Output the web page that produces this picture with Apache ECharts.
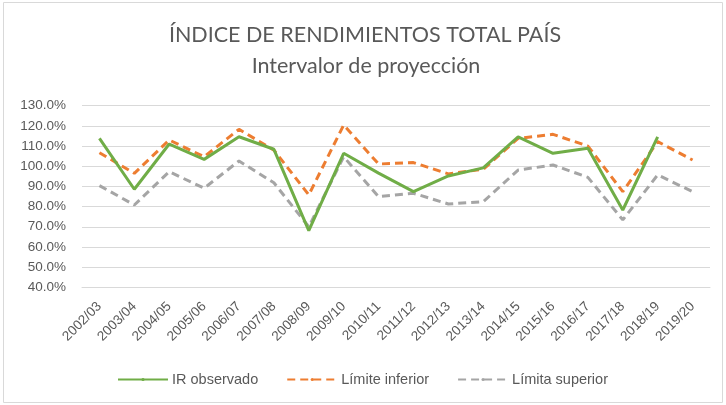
<!DOCTYPE html>
<html><head><meta charset="utf-8">
<script src="https://cdn.jsdelivr.net/npm/echarts@6/dist/echarts.min.js"></script>
<style>html,body{margin:0;padding:0;background:#fff}#c{width:726px;height:405px}</style>
</head><body><div id="c"></div>
<script>
const categories = ['2002/03','2003/04','2004/05','2005/06','2006/07','2007/08','2008/09','2009/10','2010/11','2011/12','2012/13','2013/14','2014/15','2015/16','2016/17','2017/18','2018/19','2019/20'];
const irObservado = [113.8,88.6,111.0,103.4,114.6,108.4,68.1,106.4,96.6,87.4,95.2,99.2,114.6,106.4,108.9,78.3,114.6,null];
const limiteInferior = [106.7,96.5,113.0,104.7,118.3,108.0,85.8,120.4,101.1,101.8,96.2,98.5,113.8,115.8,110.0,87.4,112.2,103.1];
const limitaSuperior = [90.4,80.8,97.3,89.1,102.6,91.8,70.0,104.7,84.9,86.6,81.3,82.4,98.1,100.6,94.5,73.4,95.7,87.4];
const yTicks = {min:40, max:130, interval:10};
const titleLines = ['ÍNDICE DE RENDIMIENTOS TOTAL PAÍS','Intervalor de proyección'];

const chart = echarts.init(document.getElementById('c'));
const txt = '#595959';
const font = 'Liberation Sans';
chart.setOption({
  animation:false,
  graphic:[
    {type:'rect',shape:{x:3.5,y:2.5,width:719,height:400},style:{fill:'none',stroke:'#D9D9D9',lineWidth:1}},
    {type:'text',x:365,y:35,style:{text:titleLines[0],fill:txt,font:'21.5px Lato',textAlign:'center',textVerticalAlign:'middle'}},
    {type:'text',x:366,y:66,style:{text:titleLines[1],fill:txt,font:'21.5px Lato',textAlign:'center',textVerticalAlign:'middle'}}
  ],
  grid:{left:82,right:16,top:105.7,bottom:117.7,containLabel:false},
  xAxis:{type:'category',data:categories,boundaryGap:true,
    axisLine:{show:true,lineStyle:{color:'#D9D9D9'}},axisTick:{show:false},
    axisLabel:{interval:0,rotate:45,color:txt,fontFamily:font,fontSize:13.5,margin:17}},
  yAxis:{type:'value',min:yTicks.min,max:yTicks.max,interval:yTicks.interval,
    axisLine:{show:false},axisTick:{show:false},
    splitLine:{lineStyle:{color:'#D9D9D9',width:1}},
    axisLabel:{color:txt,fontFamily:font,fontSize:13.5,margin:16,formatter:v=>v.toFixed(1)+'%'}},
  legend:{top:372,left:117,padding:0,itemWidth:50,itemHeight:4,itemGap:28,
    textStyle:{color:txt,fontFamily:font,fontSize:14.5,padding:[0,0,0,-1]},
    data:['IR observado','Límite inferior','Límita superior']},
  series:[
    {name:'IR observado',type:'line',data:irObservado,showSymbol:false,symbol:'none',lineStyle:{color:'#70AD47',width:3},itemStyle:{color:'#70AD47'},z:3},
    {name:'Límite inferior',type:'line',data:limiteInferior,showSymbol:false,symbol:'none',lineStyle:{color:'#ED7D31',width:3,type:[8,5]},itemStyle:{color:'#ED7D31'},z:2},
    {name:'Límita superior',type:'line',data:limitaSuperior,showSymbol:false,symbol:'none',lineStyle:{color:'#A5A5A5',width:3,type:[8,5]},itemStyle:{color:'#A5A5A5'},z:1}
  ]
});
</script></body></html>
